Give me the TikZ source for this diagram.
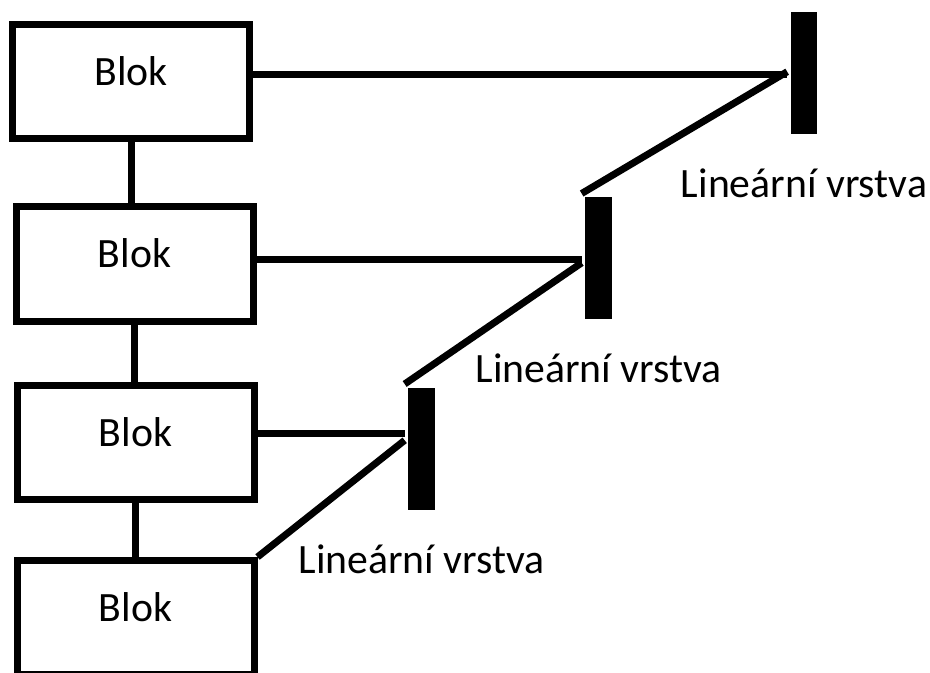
\documentclass[tikz,border=0pt]{standalone}
\usepackage{fontspec}
\setmainfont{Carlito}
\begin{document}
\begin{tikzpicture}[x=.75pt,y=-.75pt,line width=5.25pt,
	font=\fontsize{31.3}{37}\selectfont,
	blok/.style={draw,minimum width=177.75pt,minimum height=85.5pt,inner sep=0pt,text height=.68em,text depth=.1em},
	vrstva/.style={fill=black,minimum width=20pt,minimum height=91.5pt,inner sep=0pt},
	popis/.style={anchor=base,inner sep=0pt}]
	\useasboundingbox (0,0) rectangle (930,673);
	\path
	(131,81.5) node[blok] (B1) {Blok}          % <<< bloky
	++(3.5,182.5) node[blok] (B2) {Blok}
	++(1,178.5) node[blok] (B3) {Blok}
	++(0,175) node[blok] (B4) {Blok};
	\path
	(804,73.5) node[vrstva] (V1) {}            % <<< vrstvy
	(598.5,258) node[vrstva] (V2) {}
	(421.5,448.5) node[vrstva] (V3) {};
	\node[popis] (P1) at ([yshift=-45pt]V1.south) {Lineární vrstva};
	\node[popis] (P2) at ([yshift=-45pt]V2.south) {Lineární vrstva};
	\node[popis] (P3) at ([yshift=-45pt]V3.south) {Lineární vrstva};
	\draw (B1.south) -- (B1.south |- B2.north);
	\draw (B2.south) -- (B2.south |- B3.north);
	\draw (B3.south) -- (B3.south |- B4.north);
	\draw (V1.185 -| B1.east) -- (V1.185);
	\draw (V2.184 -| B2.east) -- (V2.184);
	\draw (V3.139 -| B3.east) -- (V3.139);
	\draw (V1.174) -- (V2.north west);
	\draw (V2.196) -- (V3.north west);
	\draw (V3.154) -- (B4.north east);
\end{tikzpicture}
\end{document}
